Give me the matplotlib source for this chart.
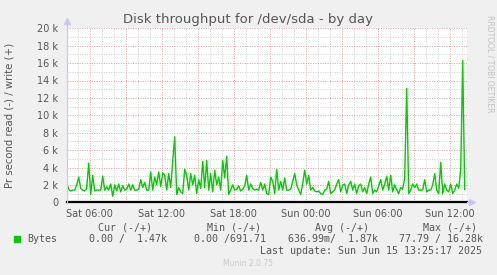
import matplotlib
matplotlib.use("Agg")
import matplotlib.pyplot as plt
import matplotlib.dates as mdates
from matplotlib.lines import Line2D
import numpy as np
from datetime import datetime, timedelta

# ---- data -------------------------------------------------------------
title = "Disk throughput for /dev/sda - by day"
ylabel = "Pr second read (-) / write (+)"
series_name = "Bytes"
start_time = datetime(2025, 6, 14, 4, 5)
end_time = datetime(2025, 6, 15, 13, 25)
sample_minutes = 10
# write (+) bytes/s, in thousands, one value per 10 minutes
write_k = [
    2.2, 1.5, 1.3, 1.4, 1.4, 2.0, 2.9, 1.6, 1.4, 1.3,
    1.6, 4.5, 0.9, 3.1, 1.3, 1.4, 1.4, 1.4, 3.0, 1.4,
    1.8, 1.4, 2.1, 0.7, 2.0, 1.3, 2.1, 1.2, 1.9, 1.4,
    1.5, 2.1, 1.4, 2.0, 1.4, 1.4, 1.5, 2.6, 1.7, 2.3,
    1.4, 1.4, 3.5, 1.4, 2.9, 2.0, 3.5, 1.8, 3.4, 3.1,
    1.4, 3.3, 1.7, 4.7, 7.5, 0.9, 1.7, 1.2, 1.0, 3.8,
    3.1, 1.4, 3.3, 2.0, 3.1, 1.0, 2.6, 1.6, 4.7, 1.7,
    4.8, 1.4, 3.3, 1.2, 3.7, 2.0, 2.9, 1.4, 4.8, 2.8,
    5.3, 0.9, 1.4, 2.0, 1.4, 1.5, 1.9, 1.3, 1.5, 1.9,
    3.1, 1.4, 2.1, 1.6, 1.4, 1.5, 1.4, 2.3, 1.4, 2.1,
    1.0, 0.9, 2.9, 2.4, 1.0, 3.8, 1.4, 2.4, 1.4, 2.8,
    1.4, 1.4, 1.5, 2.4, 3.3, 2.0, 1.4, 0.9, 2.1, 3.7,
    2.1, 3.1, 1.4, 1.7, 1.3, 1.2, 1.3, 1.0, 0.9, 1.4,
    1.5, 2.4, 1.0, 1.2, 1.4, 2.1, 2.6, 1.2, 2.0, 2.1,
    1.0, 2.0, 2.4, 1.4, 2.1, 1.0, 1.9, 2.1, 1.2, 1.7,
    1.0, 2.1, 2.9, 1.0, 1.4, 1.2, 1.9, 2.6, 1.4, 2.1,
    3.0, 1.4, 3.1, 1.2, 2.0, 1.4, 1.0, 1.7, 1.5, 2.8,
    13.1, 1.0, 1.4, 2.1, 1.7, 2.1, 1.4, 1.4, 1.4, 2.6,
    1.2, 1.4, 1.4, 2.0, 3.3, 1.4, 1.0, 4.6, 1.0, 2.1,
    1.4, 1.2, 2.1, 1.0, 1.4, 2.1, 1.6, 3.7, 16.3, 1.47,
]
y_ticks_k = [0, 2, 4, 6, 8, 10, 12, 14, 16, 18, 20]
legend_headers = ["Cur (-/+)", "Min (-/+)", "Avg (-/+)", "Max (-/+)"]
legend_values = ["0.00 /  1.47k", "0.00 /691.71", "636.99m/  1.87k", "77.79 / 16.28k"]
last_update = "Last update: Sun Jun 15 13:25:17 2025"
footer = "Munin 2.0.75"
side_text = "RRDTOOL / TOBI OETIKER"

# ---- figure -----------------------------------------------------------
W, H = 497, 275
BG = "#F0F0F0"
GREEN = "#00CC00"
TXT = "#555555"
fig = plt.figure(figsize=(W / 100, H / 100), dpi=100, facecolor=BG)

def fx(x):
    return x / W

def fy(y):
    return 1 - y / H

L, R, T, B = 66.7, 466.7, 28.3, 202.3
ax = fig.add_axes([fx(L), fy(B), (R - L) / W, (B - T) / H])
ax.set_facecolor("white")
for s in ax.spines.values():
    s.set_visible(False)

times = [start_time + timedelta(minutes=sample_minutes * i) for i in range(len(write_k))]
values = np.array(write_k) * 1000.0

ax.set_xlim(start_time, end_time)
ax.set_ylim(0, 20000)

# grid
t = start_time.replace(minute=0) + timedelta(hours=1)
while t < end_time:
    if t.hour % 3 == 0:
        ax.axvline(t, color="#E8A0A0", lw=0.7, ls=(0, (1, 1.5)), zorder=1)
    else:
        ax.axvline(t, color="#CFCFCF", lw=0.7, ls=(0, (1, 1.5)), zorder=1)
    t += timedelta(hours=1)
for v in range(1000, 20001, 1000):
    if v % 2000 == 0:
        ax.axhline(v, color="#E8A0A0", lw=0.7, ls=(0, (1, 1.5)), zorder=1)
    else:
        ax.axhline(v, color="#CFCFCF", lw=0.7, ls=(0, (1, 1.5)), zorder=1)

ax.plot(times, values, color=GREEN, lw=1.0, zorder=3)
ax.axhline(0, color="black", lw=1.6, zorder=4, clip_on=False)

# ticks
ax.set_yticks([k * 1000 for k in y_ticks_k])
ax.set_yticklabels(["0" if k == 0 else f"{k} k" for k in y_ticks_k])
ax.xaxis.set_major_locator(mdates.HourLocator(byhour=[0, 6, 12, 18]))
ax.xaxis.set_major_formatter(mdates.DateFormatter("%a %H:%M"))
ax.tick_params(axis="both", length=0, labelsize=7, labelcolor=TXT)
ax.tick_params(axis="y", pad=6)
ax.tick_params(axis="x", pad=5)
for lab in ax.get_yticklabels() + ax.get_xticklabels():
    lab.set_family("DejaVu Sans")

# axis arrows (light blue)
AX = "#C8C8F0"
fig.add_artist(Line2D([fx(L), fx(L)], [fy(B), fy(22)], color=AX, lw=0.9))
fig.add_artist(Line2D([fx(L)], [fy(21)], marker="^", color=AX, markersize=4, lw=0))
fig.add_artist(Line2D([fx(R), fx(472)], [fy(B), fy(B)], color=AX, lw=0.9))
fig.add_artist(Line2D([fx(472)], [fy(B)], marker=">", color=AX, markersize=4, lw=0))

# texts
fig.text(fx(248), fy(19), title, ha="center", va="center", fontsize=9.5, color=TXT, family="DejaVu Sans")
fig.text(fx(10), fy(115), ylabel, ha="center", va="center", rotation=90, fontsize=7.3, color=TXT, family="DejaVu Sans")
fig.text(fx(490), fy(15), side_text, ha="center", va="top", rotation=-90, fontsize=5.5, color="#C0C0C0", family="DejaVu Sans")

mono = "DejaVu Sans Mono"
header_x = [98, 207, 315, 423]
value_x = [89, 194, 288, 399]
for hx, h in zip(header_x, legend_headers):
    fig.text(fx(hx), fy(228), h, ha="left", va="center", fontsize=7.2, color=TXT, family=mono)
for vx, v in zip(value_x, legend_values):
    fig.text(fx(vx), fy(239), v, ha="left", va="center", fontsize=7.2, color=TXT, family=mono)
fig.add_artist(Line2D([fx(17)], [fy(239)], marker="s", color=GREEN, markersize=4.5, lw=0))
fig.text(fx(27), fy(239), series_name, ha="left", va="center", fontsize=7.2, color=TXT, family=mono)
fig.text(fx(482), fy(251), last_update, ha="right", va="center", fontsize=7.2, color=TXT, family=mono)
fig.text(fx(248), fy(264), footer, ha="center", va="center", fontsize=5.5, color="#C8C8C8", family="DejaVu Sans")

fig.savefig("out.png", dpi=100, facecolor=BG)
